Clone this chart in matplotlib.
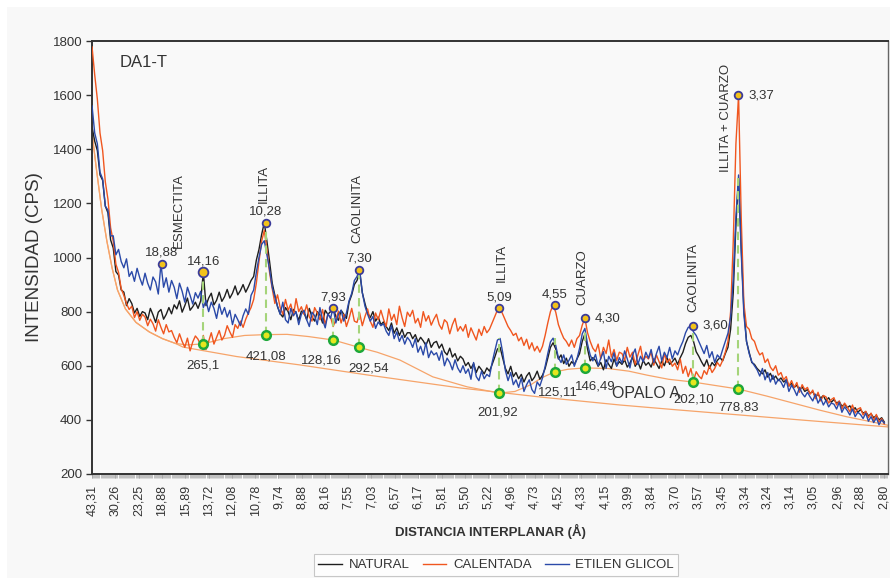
import numpy as np
import matplotlib
matplotlib.use("Agg")
import matplotlib.pyplot as plt
from matplotlib.patches import Rectangle

plt.rcParams['font.family'] = ['Liberation Sans', 'DejaVu Sans']

WAVELENGTH = 1.5406  # Cu K-alpha (Å)


def two_theta(d):
    """Bragg angle 2θ (degrees) for interplanar spacing d (Å)."""
    d = np.asarray(d, dtype=float)
    return np.degrees(2.0 * np.arcsin(WAVELENGTH / (2.0 * d)))


def to_float(txt):
    return [float(s.replace(',', '.')) for s in txt]


# ---- diffractograms: 2θ from 2.04° in 0.1° steps (CPS) ----
theta_start = 2.04
theta_step = 0.1

natural = [
    1482, 1430, 1395, 1305, 1285, 1190, 1165, 1065, 1035, 948,
    935, 880, 872, 822, 848, 830, 795, 812, 782, 800,
    795, 770, 812, 788, 760, 798, 808, 772, 790, 815,
    792, 825, 810, 840, 798, 822, 850, 805, 818, 835,
    812, 840, 946, 822, 850, 868, 825, 842, 872, 838,
    855, 882, 850, 868, 895, 862, 878, 900, 872, 892,
    915, 930, 990, 1030, 1085, 1129, 1060, 985, 905, 860,
    818, 792, 780, 815, 800, 770, 808, 795, 768, 802,
    795, 770, 812, 780, 765, 800, 788, 758, 805, 790,
    800, 815, 782, 768, 805, 790, 775, 835, 862, 900,
    915, 948, 870, 830, 795, 778, 800, 765, 780, 752,
    762, 745, 730, 758, 720, 740, 712, 735, 705, 722,
    722, 700, 715, 688, 705, 692, 675, 700, 668, 685,
    690, 665, 680, 652, 640, 665, 632, 645, 618, 635,
    625, 600, 612, 590, 608, 575, 598, 585, 570, 592,
    580, 605, 632, 662, 668, 628, 590, 570, 598, 560,
    575, 552, 568, 540, 562, 575, 545, 558, 580, 550,
    565, 590, 628, 668, 685, 662, 625, 640, 608, 628,
    598, 615, 605, 625, 645, 690, 718, 662, 618, 630,
    620, 598, 612, 585, 622, 605, 590, 625, 600, 615,
    605, 622, 595, 610, 632, 598, 615, 588, 620, 602,
    612, 595, 625, 608, 590, 618, 600, 630, 605, 615,
    628, 605, 630, 650, 682, 705, 712, 690, 652, 635,
    615, 598, 622, 590, 612, 600, 620, 630, 618, 645,
    668, 735, 870, 1120, 1293, 1040, 810, 690, 650, 612,
    605, 590, 580, 570, 585, 558, 572, 550, 562, 545,
    555, 540, 548, 525, 535, 520, 528, 510, 522, 505,
    512, 498, 505, 485, 495, 480, 490, 470, 482, 465,
    475, 462, 468, 450, 458, 445, 452, 435, 445, 428,
    438, 425, 430, 415, 422, 408, 416, 400, 408, 392,
]

calentada = [
    1778, 1675, 1585, 1460, 1395, 1280, 1215, 1110, 1060, 975,
    945, 885, 860, 830, 808, 820, 778, 800, 768, 790,
    780, 748, 772, 755, 728, 770, 742, 718, 752, 725,
    730, 705, 685, 718, 690, 668, 702, 655, 688, 710,
    698, 675, 712, 660, 690, 722, 680, 705, 730, 695,
    712, 748, 725, 705, 752, 738, 765, 742, 772, 795,
    815, 845, 905, 985, 1060, 1100, 1030, 945, 885, 830,
    862, 815, 790, 845, 805, 828, 785, 848, 800, 818,
    790, 825, 780, 765, 815, 795, 770, 808, 752, 790,
    780, 745, 770, 802, 758, 790, 745, 775, 812, 765,
    760, 795, 748, 782, 810, 765, 742, 795, 770, 805,
    772, 745, 810, 768, 790, 752, 820, 778, 745, 798,
    782, 805, 758, 775, 742, 800, 765, 785, 750, 772,
    790, 752, 735, 770, 760, 718, 752, 775, 728, 745,
    728, 752, 705, 740, 718, 695, 735, 712, 745, 722,
    735, 758, 782, 806, 813, 790, 768, 745, 730, 712,
    720, 692, 705, 675, 698, 662, 685, 655, 672, 650,
    672, 712, 758, 800, 824, 798, 752, 725, 702, 690,
    672, 695, 668, 700, 712, 750, 776, 722, 690, 665,
    652, 680, 625, 668, 645, 695, 632, 660, 620, 650,
    645, 620, 668, 632, 650, 605, 640, 672, 618, 635,
    625, 650, 602, 640, 615, 592, 645, 612, 625, 598,
    610, 585, 625, 572, 598, 560, 590, 545, 578, 562,
    552, 582, 568, 600, 575, 590, 612, 598, 620, 650,
    690, 800, 1060, 1420, 1600, 1150, 830, 745, 735, 700,
    690, 660, 640, 648, 612, 625, 595, 582, 600, 565,
    575, 548, 560, 525, 545, 520, 538, 502, 530, 512,
    520, 495, 510, 478, 502, 470, 490, 485, 462, 475,
    482, 455, 470, 440, 462, 448, 430, 455, 425, 440,
    445, 418, 432, 408, 425, 398, 420, 392, 405, 385,
]

etilen_glicol = [
    1560, 1460, 1420, 1315, 1290, 1190, 1175, 1080, 1080, 1010,
    1030, 985, 962, 995, 930, 948, 912, 960, 925, 898,
    942, 905, 880, 928, 910, 865, 976, 890, 925, 872,
    915, 890, 848, 905, 875, 835, 890, 860, 828, 870,
    850, 875, 815, 842, 800, 835, 812, 775, 828, 790,
    815, 780, 805, 752, 790, 770, 748, 785, 810, 790,
    860, 880, 945, 1000, 1048, 1062, 1010, 955, 890, 855,
    820, 790, 835, 770, 758, 812, 785, 800, 752, 790,
    805, 770, 745, 798, 785, 752, 815, 770, 740, 792,
    775, 815, 758, 790, 805, 765, 795, 840, 868, 915,
    930, 955, 870, 820, 790, 765, 782, 738, 762, 748,
    755, 728, 712, 748, 700, 725, 690, 712, 680, 705,
    692, 668, 700, 650, 672, 640, 685, 630, 655, 640,
    648, 620, 655, 600, 628, 612, 585, 622, 592, 575,
    600, 572, 588, 550, 612, 560, 545, 580, 552, 568,
    560, 612, 655, 695, 701, 648, 582, 545, 575, 530,
    548, 520, 555, 505, 530, 548, 512, 498, 540, 525,
    555, 598, 645, 688, 702, 675, 630, 612, 640, 605,
    620, 640, 598, 625, 665, 718, 738, 680, 640, 618,
    642, 600, 628, 652, 590, 635, 615, 648, 598, 630,
    610, 655, 625, 592, 640, 662, 605, 635, 615, 650,
    628, 660, 612, 645, 672, 618, 650, 630, 668, 625,
    655, 640, 668, 690, 722, 742, 745, 725, 712, 690,
    668, 645, 675, 630, 652, 612, 640, 628, 660, 690,
    720, 780, 920, 1150, 1305, 1020, 790, 690, 645, 615,
    600, 585, 562, 590, 548, 575, 540, 565, 532, 550,
    540, 520, 548, 505, 528, 512, 490, 520, 498, 485,
    502, 485, 470, 495, 462, 480, 455, 472, 448, 462,
    458, 440, 465, 428, 448, 435, 418, 440, 412, 428,
    420, 405, 425, 395, 412, 390, 408, 382, 400, 388,
]

series_names = ['NATURAL', 'CALENTADA', 'ETILEN GLICOL']
series_colors = ['#1e1e1e', '#f0561f', '#2a49a8']

# ---- background traces (2θ, CPS) ----
bg_upper_tt = [2.04, 2.2, 2.4, 2.6, 2.8, 3.0, 3.3, 3.7, 4.2, 4.7, 5.2, 5.65,
               6.24, 7.0, 7.8, 8.59, 9.4, 10.2, 11.15, 12.11, 12.8, 13.66,
               14.9, 16.2, 17.41, 18.0, 18.6, 19.0, 19.49, 20.0, 20.64, 21.5,
               22.3, 23.0, 23.8, 24.71, 25.5, 26.43, 27.5, 28.5, 29.5, 30.5,
               31.3, 32.08]
bg_upper_cps = [1460, 1330, 1180, 1060, 960, 880, 810, 760, 725, 700, 682, 677,
                681, 700, 712, 715, 716, 708, 695, 668, 650, 621,
                559, 522, 499, 505, 530, 555, 577, 587, 592, 590,
                580, 565, 550, 540, 528, 514, 488, 462, 436, 412,
                396, 380]
bg_lower_tt = [2.04, 2.2, 2.4, 2.6, 2.8, 3.0, 3.3, 3.7, 4.2, 4.7, 5.2, 5.47,
               7.5, 9.89, 12.5, 15.93, 19.0, 21.96, 24.0, 26.5, 29.0, 32.08]
bg_lower_cps = [1460, 1330, 1180, 1060, 960, 880, 810, 760, 725, 700, 682, 669,
                634, 603, 565, 518, 484, 455, 438, 418, 398, 374]

# ---- identified reflections ----
peak_text = ['18,88', '14,16', '10,28', '7,93', '7,30', '5,09', '4,55', '4,30', '3,60', '3,37']
peak_cps = [976, 946, 1129, 813, 954, 813, 824, 776, 747, 1600]
peak_label_right = [False, False, False, False, False, False, False, True, True, True]
peak_marker_size = [5.5, 7, 5.5, 5.5, 5.5, 5.5, 5.5, 5.5, 5.5, 5.5]

# net peak heights above the local background
net_d_text = ['14,16', '10,28', '7,93', '7,30', '5,09', '4,55', '4,30', '3,60', '3,37']
net_text = ['265,1', '421,08', '128,16', '292,54', '201,92', '125,11', '146,49', '202,10', '778,83']
net_bg_cps = [681, 715, 695, 668, 499, 577, 592, 540, 514]
net_label_offset = [(0, -22), (0, -22), (-12, -20), (10, -21), (-2, -19),
                    (3, -21), (10, -19), (1, -18), (0, -18)]

# mineral phases (label, 2θ, CPS at label base)
minerals = [
    ('ESMECTITA', 5.32, 1035),
    ('ILLITA', 8.53, 1201),
    ('CAOLINITA', 12.04, 1054),
    ('ILLITA', 17.51, 909),
    ('CUARZO', 20.53, 824),
    ('CAOLINITA', 24.72, 799),
    ('ILLITA + CUARZO', 25.96, 1316),
]

d_tick_text = ['43,31', '30,26', '23,25', '18,88', '15,89', '13,72', '12,08', '10,78',
               '9,74', '8,88', '8,16', '7,55', '7,03', '6,57', '6,17', '5,81', '5,50',
               '5,22', '4,96', '4,73', '4,52', '4,33', '4,15', '3,99', '3,84', '3,70',
               '3,57', '3,45', '3,34', '3,24', '3,14', '3,05', '2,96', '2,88', '2,80']

# ---------------------------------------------------------------------------
W, H = 890, 581
fig = plt.figure(figsize=(W / 100, H / 100), dpi=100, facecolor='white')
fig.patches.append(Rectangle((7 / W, 3 / H), 1 - 7 / W, 1 - 10 / H,
                             transform=fig.transFigure, facecolor='#f8f8f8',
                             edgecolor='none', zorder=-5))

ax = fig.add_axes([92 / W, 107 / H, 796 / W, 433 / H])
ax.set_facecolor('#f9f9f9')

tt = theta_start + theta_step * np.arange(len(natural))

ax.plot(bg_lower_tt, bg_lower_cps, color='#f6a46a', lw=0.9, zorder=1)
ax.plot(bg_upper_tt, bg_upper_cps, color='#f6a46a', lw=0.9, zorder=1)

for vals, name, col, z in zip([natural, calentada, etilen_glicol], series_names,
                              series_colors, [2, 3, 4]):
    ax.plot(tt, vals, color=col, lw=1.0, label=name, zorder=z)

# net-height guides and background markers
net_tt = two_theta(to_float(net_d_text))
net_vals = to_float(net_text)
for x, bg, net, txt, off in zip(net_tt, net_bg_cps, net_vals, net_text, net_label_offset):
    ax.plot([x, x], [bg, bg + net], color='#a5d47a', lw=1.5,
            linestyle=(0, (4, 2.5)), zorder=5)
    ax.plot([x], [bg], marker='o', ms=6.2, mfc='#e6e61e', mec='#1ea83a', mew=1.8,
            zorder=7, linestyle='none')
    ax.annotate(txt, (x, bg), xytext=off, textcoords='offset pixels',
                ha='center', va='center', fontsize=9.5, color='#333333', zorder=8)

# peak markers with d-spacing labels
peak_tt = two_theta(to_float(peak_text))
for x, y, txt, right, ms in zip(peak_tt, peak_cps, peak_text, peak_label_right, peak_marker_size):
    ax.plot([x], [y], marker='o', ms=ms, mfc='#f2c21a', mec='#3b3b9a', mew=1.3,
            zorder=7, linestyle='none')
    if right:
        ax.annotate(txt, (x, y), xytext=(10, 0), textcoords='offset pixels',
                    ha='left', va='center', fontsize=9.5, color='#333333', zorder=8)
    else:
        ax.annotate(txt, (x, y), xytext=(0, 11), textcoords='offset pixels',
                    ha='center', va='center', fontsize=9.5, color='#333333', zorder=8)

for name, x, y in minerals:
    ax.text(x, y, name, rotation=90, ha='center', va='bottom', fontsize=9.5,
            color='#333333', zorder=8)

ax.text(21.66, 499, 'OPALO A', ha='left', va='center', fontsize=11.5,
        color='#333333', zorder=8)
ax.text(0.035, 0.951, 'DA1-T', transform=ax.transAxes, ha='left', va='center',
        fontsize=12, color='#333333')

# axes
ax.set_xlim(2.038, 32.08)
ax.set_ylim(200, 1800)
ax.set_yticks(np.arange(200, 1801, 200))
ax.set_xticks(two_theta(to_float(d_tick_text)))
ax.set_xticklabels(d_tick_text, rotation=90)
ax.set_xticks(np.arange(2.04, 32.08, 0.04), minor=True)
ax.tick_params(axis='x', which='major', length=3, width=0.6, color='#999999',
               pad=5, labelsize=9, labelcolor='#333333')
ax.tick_params(axis='x', which='minor', length=3, width=0.5, color='#aaaaaa')
ax.tick_params(axis='y', length=4, width=1.0, color='#333333', pad=3,
               labelsize=9.5, labelcolor='#333333')

for side in ['left', 'bottom', 'top']:
    ax.spines[side].set_color('#333333')
    ax.spines[side].set_linewidth(1.4)
ax.spines['right'].set_color('#666666')
ax.spines['right'].set_linewidth(1.0)

ax.set_xlabel('DISTANCIA INTERPLANAR (Å)', fontsize=9.5, fontweight='bold', color='#333333')
ax.xaxis.set_label_coords(0.5, -(531 - 474) / 433)
ax.xaxis.label.set_va('center')
ax.set_ylabel('INTENSIDAD (CPS)', fontsize=13.5, color='#333333')
ax.yaxis.set_label_coords(-(92 - 35) / 796, 0.5)
ax.yaxis.label.set_va('center')

leg = fig.legend(loc='center', bbox_to_anchor=(496 / W, 1 - 565 / H), ncol=3,
                 frameon=True, fancybox=False, fontsize=9.5, handlelength=1.8,
                 handletextpad=0.5, columnspacing=1.0, borderpad=0.35)
leg.get_frame().set_edgecolor('#bbbbbb')
leg.get_frame().set_facecolor('white')
leg.get_frame().set_linewidth(0.8)
for t in leg.get_texts():
    t.set_color('#333333')

fig.savefig('out.png', dpi=100, facecolor=fig.get_facecolor())
